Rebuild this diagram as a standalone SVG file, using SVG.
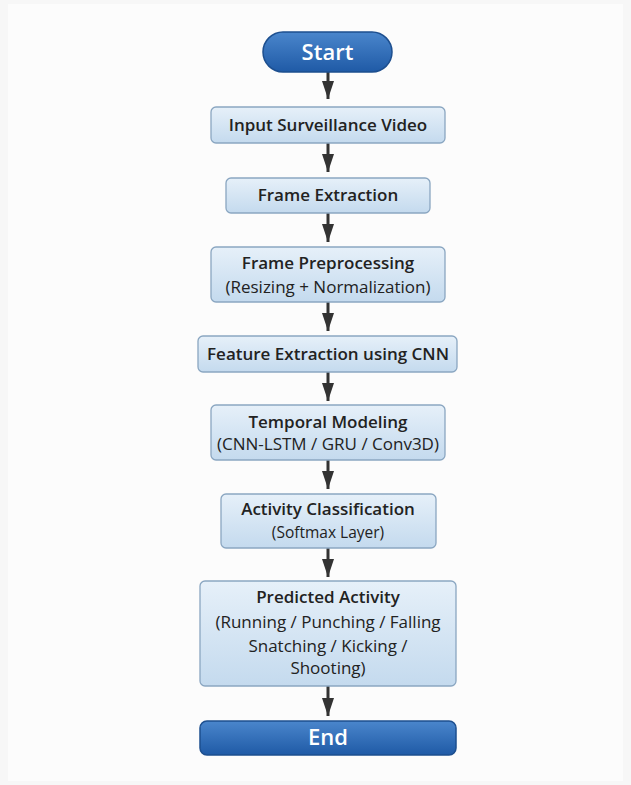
<svg xmlns="http://www.w3.org/2000/svg" width="631" height="785" viewBox="0 0 631 785">
<defs>
<linearGradient id="gBox" x1="0" y1="0" x2="0" y2="1">
<stop offset="0" stop-color="#e6f0f9"/>
<stop offset="1" stop-color="#c4daee"/>
</linearGradient>
<linearGradient id="gTerm" x1="0" y1="0" x2="0" y2="1">
<stop offset="0" stop-color="#4a86cc"/>
<stop offset="1" stop-color="#1f5aa6"/>
</linearGradient>
<marker id="ah" markerWidth="6" markerHeight="4" refX="6" refY="2" orient="auto" markerUnits="strokeWidth">
<path d="M0,0 L6,2 L0,4 Z" fill="#333"/>
</marker>
</defs>
<style>
.box{fill:url(#gBox);stroke:#8aa6c1;stroke-width:1.3}
.term{fill:url(#gTerm);stroke:#1d4f8f;stroke-width:1.5}
.t{font-family:"Open Sans","DejaVu Sans",sans-serif;font-weight:600;font-size:17px;fill:#222;text-anchor:middle}
.s{font-family:"Open Sans","DejaVu Sans",sans-serif;font-weight:400;font-size:17px;fill:#222;text-anchor:middle}
.tw{font-family:"Open Sans","DejaVu Sans",sans-serif;font-weight:600;font-size:22px;fill:#fff;text-anchor:middle}
.c{stroke:#333;stroke-width:3;fill:none;marker-end:url(#ah)}
</style>
<rect x="0" y="0" width="631" height="785" fill="#f7f7f7"/>
<rect x="8" y="4" width="615" height="777" fill="#fcfcfc"/>
<g id="connectors">
<line class="c" x1="328" y1="72" x2="328" y2="99"/>
<line class="c" x1="328" y1="143" x2="328" y2="172"/>
<line class="c" x1="328" y1="213" x2="328" y2="242"/>
<line class="c" x1="328" y1="302" x2="328" y2="331"/>
<line class="c" x1="328" y1="372" x2="328" y2="401"/>
<line class="c" x1="328" y1="460" x2="328" y2="489"/>
<line class="c" x1="328" y1="548" x2="328" y2="577"/>
<line class="c" x1="328" y1="686" x2="328" y2="716"/>
</g>
<g id="start">
<rect class="term" x="263" y="32" width="129" height="40" rx="20"/>
<text class="tw" x="327.5" y="60">Start</text>
</g>
<g id="input">
<rect class="box" x="211" y="107" width="234" height="36" rx="5"/>
<text class="t" x="328" y="131">Input Surveillance Video</text>
</g>
<g id="frameExtraction">
<rect class="box" x="226" y="178" width="204" height="35" rx="5"/>
<text class="t" x="328" y="201">Frame Extraction</text>
</g>
<g id="preprocessing">
<rect class="box" x="211" y="247" width="234" height="55" rx="5"/>
<text class="t" x="328" y="269">Frame Preprocessing</text>
<text class="s" x="328" y="293">(Resizing + Normalization)</text>
</g>
<g id="featureExtraction">
<rect class="box" x="198" y="336" width="259" height="36" rx="5"/>
<text class="t" x="328" y="360">Feature Extraction using CNN</text>
</g>
<g id="temporal">
<rect class="box" x="211" y="405" width="234" height="55" rx="5"/>
<text class="t" x="328" y="428">Temporal Modeling</text>
<text class="s" x="328" y="450">(CNN-LSTM / GRU / Conv3D)</text>
</g>
<g id="classification">
<rect class="box" x="221" y="494" width="215" height="54" rx="5"/>
<text class="t" x="328" y="515">Activity Classification</text>
<text class="s" x="328" y="538" style="font-size:15.5px">(Softmax Layer)</text>
</g>
<g id="predicted">
<rect class="box" x="200" y="581" width="256" height="105" rx="5"/>
<text class="t" x="328" y="603">Predicted Activity</text>
<text class="s" x="328" y="628">(Running / Punching / Falling</text>
<text class="s" x="328" y="652">Snatching / Kicking /</text>
<text class="s" x="328" y="674">Shooting)</text>
</g>
<g id="end">
<rect class="term" x="200" y="721" width="256" height="34" rx="7"/>
<text class="tw" x="328" y="745">End</text>
</g>
</svg>
